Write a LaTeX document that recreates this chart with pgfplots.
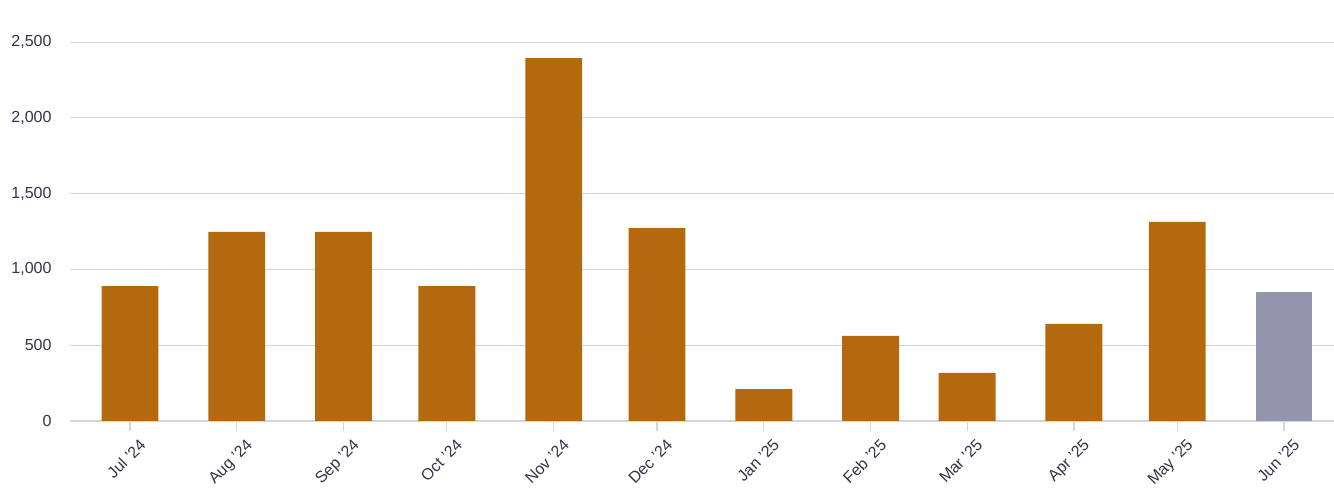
\documentclass[border=0pt]{standalone}
\usepackage{pgfplots}
\pgfplotsset{compat=1.18}
\usepackage{fontspec}
\setmainfont{Liberation Sans}
\definecolor{barorange}{HTML}{B5690F}
\definecolor{bargray}{HTML}{9394AE}
\definecolor{gridc}{HTML}{D4D3E4}
\definecolor{txt}{HTML}{33334A}
\begin{document}
\begin{tikzpicture}
\begin{axis}[
  name=ax,
  scale only axis,
  width=1264pt, height=379pt,
  xmin=-17.4, xmax=349.5,
  ymin=0, ymax=2500,
  axis x line*=bottom,
  axis y line*=left,
  x axis line style={gridc, line width=1.2pt, -},
  y axis line style={draw=none},
  ytick={0,500,1000,1500,2000,2500},
  yticklabels={0,500,{1,000},{1,500},{2,000},{2,500}},
  ymajorgrids,
  grid style={gridc, line width=0.9pt},
  xtick={0,31,62,92,123,153,184,215,243,274,304,335},
  xticklabels={Jul '24,Aug '24,Sep '24,Oct '24,Nov '24,Dec '24,Jan '25,Feb '25,Mar '25,Apr '25,May '25,Jun '25},
  xtick style={gridc, line width=1.2pt},
  major tick length=10pt,
  xtick align=outside,
  ytick style={draw=none},
  tick label style={font=\fontsize{16}{18}\selectfont, text=txt},
  xticklabel style={rotate=45, anchor=north east, inner sep=1pt, yshift=-10pt, xshift=2pt},
  yticklabel style={anchor=east, xshift=-15pt},
  ybar, bar width=16.5, bar shift=0pt,
  clip=false,
]
\addplot[fill=barorange, draw=none] coordinates {
(0,890) (31,1247) (62,1247) (92,890) (123,2394) (153,1273)
(184,211) (215,561) (243,317) (274,640) (304,1313)};
\addplot[fill=bargray, draw=none] coordinates {(335,851)};
\end{axis}
\pgfresetboundingbox
\path[use as bounding box] ([xshift=-70pt,yshift=-68pt]ax.south west) rectangle ([yshift=42pt]ax.north east);
\end{tikzpicture}
\end{document}
